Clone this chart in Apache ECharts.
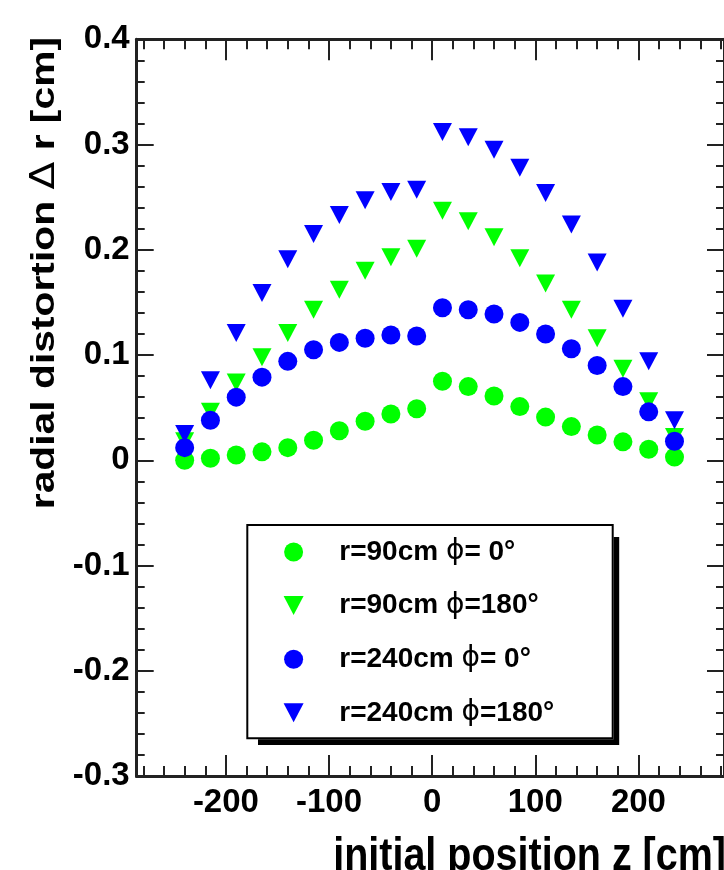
<!DOCTYPE html>
<html><head><meta charset="utf-8">
<script src="https://cdn.jsdelivr.net/npm/echarts@6/dist/echarts.min.js"></script>
<style>html,body{margin:0;padding:0;background:#fff;}#c{width:724px;height:870px;}</style>
</head><body><div id="c"></div>
<script>
// ---- data ----
const zPositions = [-240,-215,-190,-165,-140,-115,-90,-65,-40,-15,10,35,60,85,110,135,160,185,210,235];
const r90phi0   = [0.000,0.002,0.005,0.008,0.012,0.019,0.028,0.037,0.044,0.049,0.075,0.070,0.061,0.051,0.041,0.032,0.024,0.0175,0.0105,0.003];
const r90phi180 = [0.018,0.046,0.074,0.098,0.121,0.143,0.162,0.180,0.193,0.201,0.237,0.227,0.212,0.192,0.168,0.143,0.116,0.087,0.056,0.022];
const r240phi0  = [0.012,0.038,0.060,0.079,0.094,0.105,0.112,0.116,0.119,0.118,0.145,0.143,0.139,0.131,0.120,0.106,0.090,0.070,0.046,0.018];
const r240phi180= [0.025,0.076,0.121,0.159,0.191,0.215,0.233,0.247,0.255,0.257,0.312,0.307,0.295,0.278,0.254,0.224,0.188,0.144,0.094,0.038];
const seriesNames = ['r=90cm ϕ= 0°','r=90cm ϕ=180°','r=240cm ϕ= 0°','r=240cm ϕ=180°'];
const xMajorTicks = [-200,-100,0,100,200];
const xMinorTicks = [-280,-260,-240,-220,-180,-160,-140,-120,-80,-60,-40,-20,20,40,60,80,120,140,160,180,220,240,260,280];
const yRange = [-0.3, 0.4];
const xRange = [-286.5, 283];

// ---- styles ----
const GREEN = '#00ff00', BLUE = '#0000ff', AX = '#222';
const TRI = 'path://M0,0L20,0L10,19Z';
const FONT = 'Liberation Sans';

function pairs(vals){ return zPositions.map((z,i)=>[z, vals[i]]); }

function xAx(pos, vals, len, labels){
  return {type:'value', min:xRange[0], max:xRange[1], position:pos,
    axisLine:{show:true,onZero:false,lineStyle:{color:AX,width:3}},
    axisTick:{show:true,inside:true,length:len,customValues:vals,lineStyle:{color:AX,width:2}},
    axisLabel:{show:labels,customValues:vals,margin:10,fontSize:33,fontWeight:'bold',fontFamily:FONT,color:'#000'},
    splitLine:{show:false}, minorTick:{show:false}};
}
function yAx(pos, labels){
  return {type:'value', min:yRange[0], max:yRange[1], interval:0.1, position:pos,
    axisLine:{show:true,onZero:false,lineStyle:{color:AX,width:3}},
    axisTick:{show:true,inside:true,length:17,lineStyle:{color:AX,width:2}},
    minorTick:{show:true,splitNumber:5,length:8,lineStyle:{color:AX,width:2}},
    axisLabel:{show:labels,margin:7,fontSize:33,fontWeight:'bold',fontFamily:FONT,color:'#000'},
    splitLine:{show:false}, minorSplitLine:{show:false}};
}

const chart = echarts.init(document.getElementById('c'), null, {renderer:'canvas'});
const mk = (name, vals, sym, size, color) => ({
  name, type:'scatter', data:pairs(vals), symbol:sym, symbolSize:size,
  itemStyle:{color:color, opacity:1}, xAxisIndex:0, yAxisIndex:0, animation:false,
  emphasis:{disabled:true}
});

chart.setOption({
  animation:false,
  backgroundColor:'#fff',
  grid:{left:136.7, top:39.3, right:-2, bottom:94, containLabel:false},
  xAxis:[xAx('bottom',xMajorTicks,21,true), xAx('bottom',xMinorTicks,10,false),
         xAx('top',xMajorTicks,21,false), xAx('top',xMinorTicks,10,false)],
  yAxis:[yAx('left',true), yAx('right',false)],
  legend:{
    orient:'vertical', left:283.6, top:537, padding:0, itemGap:23.6,
    itemWidth:81.4, itemHeight:19, selectedMode:false, z:5,
    textStyle:{fontFamily:FONT, fontWeight:'bold', fontSize:28, color:'#000', lineHeight:30,
      rich:{p:{fontFamily:'DejaVu Sans', fontWeight:'normal', fontSize:28, lineHeight:30, color:'#000'}}},
    formatter: n => n.replace('ϕ','{p|ϕ}'),
    data:[{name:seriesNames[0],icon:'circle'},{name:seriesNames[1],icon:TRI},
          {name:seriesNames[2],icon:'circle'},{name:seriesNames[3],icon:TRI}]
  },
  graphic:[
    {type:'rect', z:3, shape:{x:613.7,y:537,width:5.5,height:208}, style:{fill:'#000'}},
    {type:'rect', z:3, shape:{x:258,y:739.3,width:361,height:5.7}, style:{fill:'#000'}},
    {type:'rect', z:3, shape:{x:247.3,y:525,width:365.4,height:213.3}, style:{fill:'#fff',stroke:'#000',lineWidth:2}},
    {type:'text', z:3, x:45, y:37, rotation:Math.PI/2, scaleX:1.2,
      style:{text:'{b|radial distortion }{s|Δ}{b| r [cm]}', align:'right', verticalAlign:'middle', fill:'#000',
        rich:{b:{fontFamily:FONT,fontWeight:'bold',fontSize:34,fill:'#000'}, s:{fontFamily:'DejaVu Sans',fontWeight:'normal',fontSize:34,fill:'#000'}}}},
    {type:'text', z:3, x:726, y:834, scaleY:1.17,
      style:{text:'initial position z [cm]', font:'bold 39.5px "Liberation Sans"', align:'right', verticalAlign:'top', fill:'#000'}}
  ],
  series:[
    mk(seriesNames[0], r90phi0, 'circle', 19, GREEN),
    mk(seriesNames[1], r90phi180, TRI, [19,18], GREEN),
    mk(seriesNames[2], r240phi0, 'circle', 19, BLUE),
    mk(seriesNames[3], r240phi180, TRI, [19,18], BLUE)
  ]
});
</script></body></html>
